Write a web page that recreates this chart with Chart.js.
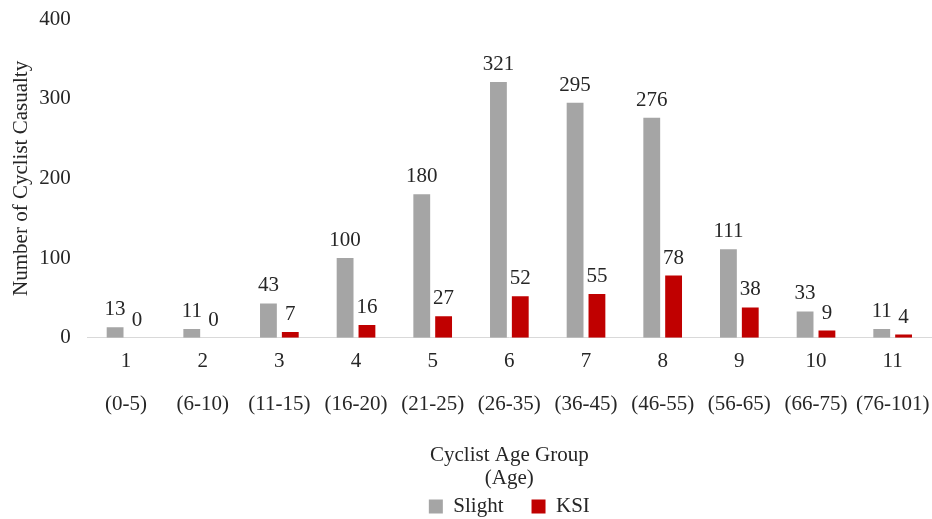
<!DOCTYPE html>
<html>
<head>
<meta charset="utf-8">
<script src="https://cdn.jsdelivr.net/npm/chart.js@4.4.1/dist/chart.umd.min.js"></script>
<style>
  html, body { margin: 0; padding: 0; background: #fff; }
  #wrap { width: 932px; height: 519px; }
</style>
</head>
<body>
<div id="wrap"><canvas id="casualty_chart" width="932" height="519"></canvas></div>
<script>
// categories and age ranges
var groups = ['1', '2', '3', '4', '5', '6', '7', '8', '9', '10', '11'];
var ageRanges = ['(0-5)', '(6-10)', '(11-15)', '(16-20)', '(21-25)', '(26-35)', '(36-45)', '(46-55)', '(56-65)', '(66-75)', '(76-101)'];
// series
var slight = [13, 11, 43, 100, 180, 321, 295, 276, 111, 33, 11];
var ksi = [0, 0, 7, 16, 27, 52, 55, 78, 38, 9, 4];

var serif = "'Liberation Serif', 'Times New Roman', serif";
Chart.defaults.font.family = serif;
Chart.defaults.font.size = 21;
Chart.defaults.color = '#262626';

// labels above each bar
var valueLabels = {
    id: 'valueLabels',
    afterDatasetsDraw: function(chart) {
        var ctx = chart.ctx;
        ctx.save();
        ctx.font = '21px ' + serif;
        ctx.fillStyle = '#262626';
        ctx.textAlign = 'center';
        ctx.textBaseline = 'alphabetic';
        chart.data.datasets.forEach(function(ds, i) {
            var meta = chart.getDatasetMeta(i);
            meta.data.forEach(function(bar, j) {
                ctx.fillText(String(ds.data[j]), bar.x, bar.y - 12);
            });
        });
        ctx.restore();
    }
};

var tickLabels = groups.map(function(g, i) { return [g, ageRanges[i]]; });

const dt = {
    labels: tickLabels,
    datasets: [
    {
        label: 'Slight',
        data: slight,
        backgroundColor: '#a5a5a5',
        barPercentage: 0.77,
        categoryPercentage: 0.57
    },
    {
        label: 'KSI',
        data: ksi,
        backgroundColor: '#c00000',
        barPercentage: 0.77,
        categoryPercentage: 0.57
    }
    ]
};

// legend padding is also the gap between the two items;
// the room it adds above the legend is taken back from the x title
var legendGap = 28;

const config_casualty = {
    type: 'bar',
    data: dt,
    plugins: [valueLabels],
    options: {
        responsive: false,
        animation: false,
        layout: { padding: { left: 9, right: 1, top: 0, bottom: -8 } },
        plugins: {
            legend: {
                position: 'bottom',
                fullSize: false,
                labels: {
                    font: { family: serif, size: 21 },
                    color: '#262626',
                    boxWidth: 14,
                    boxHeight: 14,
                    padding: legendGap
                }
            },
            tooltip: { enabled: false }
        },
        scales: {
            x: {
                grid: { display: false, drawTicks: false },
                border: { color: '#d9d9d9', width: 1 },
                ticks: {
                    font: { family: serif, size: 21, lineHeight: 2.05 },
                    color: '#262626',
                    padding: 2,
                    maxRotation: 0,
                    autoSkip: false
                },
                title: {
                    display: true,
                    text: ['Cyclist Age Group', '(Age)'],
                    font: { family: serif, size: 21, lineHeight: 1.1 },
                    color: '#262626',
                    padding: { top: 16, bottom: -22 }
                }
            },
            y: {
                min: 0,
                max: 400,
                grid: { display: false, drawTicks: false },
                border: { display: false },
                ticks: {
                    stepSize: 100,
                    font: { family: serif, size: 21, lineHeight: 0.2 },
                    color: '#262626',
                    padding: 17
                },
                title: {
                    display: true,
                    text: 'Number of Cyclist Casualty',
                    font: { family: serif, size: 21 },
                    color: '#262626',
                    padding: { top: 0, bottom: -12 }
                }
            }
        }
    }
};

const casualty_chart = new Chart(
    document.getElementById('casualty_chart'),
    config_casualty
);
</script>
</body>
</html>
